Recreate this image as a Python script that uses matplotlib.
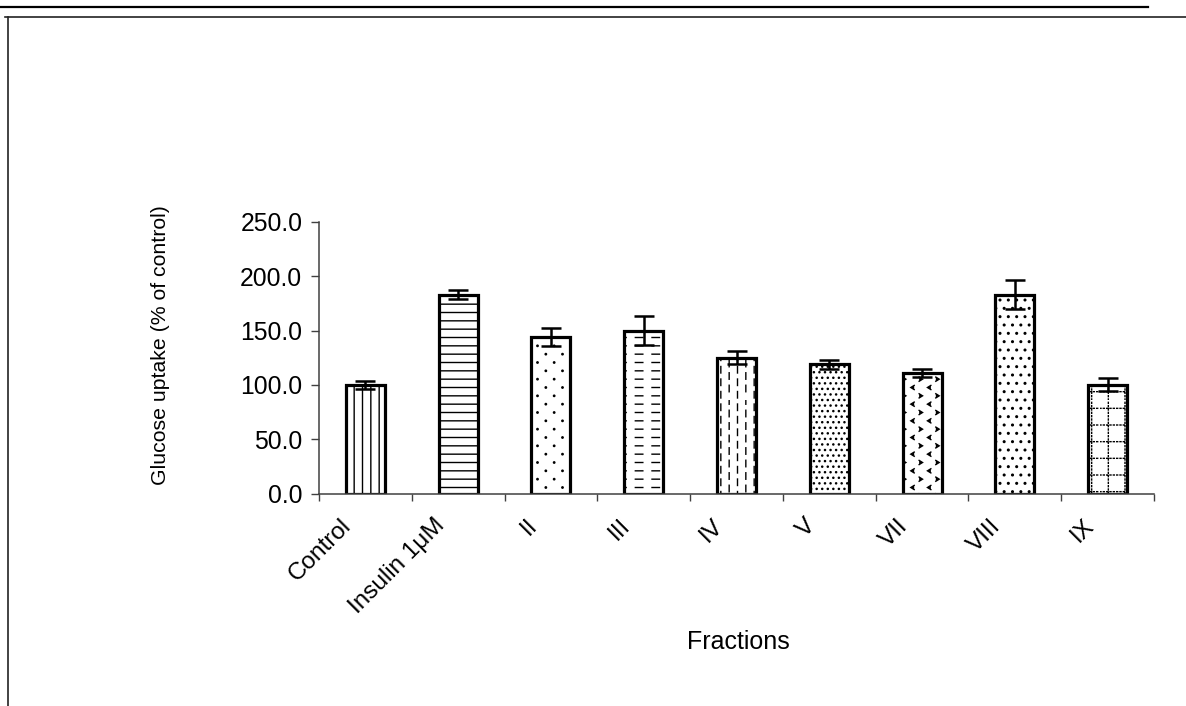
import warnings
warnings.filterwarnings('ignore')
import numpy as np
import matplotlib
matplotlib.use('Agg')
import matplotlib.pyplot as plt
import matplotlib.hatch as mhatch
import matplotlib.transforms as mtrans
from matplotlib.path import Path
from matplotlib.lines import Line2D
from matplotlib.ticker import FormatStrFormatter

# ---------------- data ----------------
categories = ['Control', 'Insulin 1μM', 'II', 'III', 'IV', 'V', 'VII', 'VIII', 'IX']
uptake = [100.0, 183.0, 144.0, 150.0, 125.0, 119.0, 111.0, 183.0, 100.0]
sem = [4.0, 4.0, 8.0, 13.0, 6.0, 4.0, 4.0, 13.0, 6.0]
yticks = [0, 50, 100, 150, 200, 250]
hatches = ['||', '--', 'a', 'b', 'c', '...', 'e', '..', 'f']

# ---------------- custom hatch patterns (styles) ----------------
def _segs(segs):
    v = np.asarray(segs, float).reshape(-1, 2)
    c = np.tile([Path.MOVETO, Path.LINETO], len(segs)).astype(Path.code_type)
    return v, c

def _circles(centers, r):
    uc = Path.unit_circle()
    vs = [uc.vertices * r + np.asarray(cc) for cc in centers]
    cs = [uc.codes for _ in centers]
    return np.concatenate(vs), np.concatenate(cs).astype(Path.code_type)


class _CustomHatch(mhatch.HatchPatternBase):
    char = None

    def __init__(self, hatch, density):
        if self.char is not None and hatch.count(self.char):
            v, c = self.build()
        else:
            v, c = np.empty((0, 2)), np.empty(0, dtype=Path.code_type)
        self._v, self._c = v, c
        self.num_vertices = len(v)

    def set_vertices_and_codes(self, vertices, codes):
        vertices[:] = self._v
        codes[:] = self._c


class SparseDots(_CustomHatch):
    char = 'a'

    def build(self):
        pts = []
        for j in range(12):
            for i in range(6):
                pts.append(((i + 0.25 + 0.5 * (j % 2)) / 6, (j + 0.5) / 12))
        return _circles(pts, 0.007)


class HDashes(_CustomHatch):
    char = 'b'

    def build(self):
        segs = []
        for j in range(12):
            y = (j + 0.5) / 12
            for i in range(6):
                x0 = i / 6 + 0.02
                segs.append(((x0, y), (x0 + 0.075, y)))
        return _segs(segs)


class VDashes(_CustomHatch):
    char = 'c'

    def build(self):
        segs = []
        for i in range(12):
            x = (i + 0.5) / 12
            off = 0.0625 * (i % 2)
            for j in range(8):
                y0 = j / 8 + off + 0.02
                segs.append(((x, y0), (x, y0 + 0.065)))
        return _segs(segs)


class Chevrons(_CustomHatch):
    char = 'e'

    def build(self):
        vs, cs = [], []
        hw, hh = 0.017, 0.021
        for j in range(12):
            for i in range(12):
                if (i + j) % 2:
                    continue
                cx, cy = (i + 0.5) / 12, (j + 0.5) / 12
                s = 1 if j % 2 == 0 else -1
                vs += [(cx - s * hw, cy + hh), (cx + s * hw, cy), (cx - s * hw, cy - hh)]
                cs += [Path.MOVETO, Path.LINETO, Path.LINETO]
        return np.asarray(vs, float), np.asarray(cs, dtype=Path.code_type)


class DottedGrid(_CustomHatch):
    char = 'f'

    def build(self):
        segs = []
        for k in range(6):
            p = (k + 0.5) / 6
            for m in range(30):
                a = m / 30
                segs.append(((a, p), (a + 0.01, p)))
                segs.append(((p, a), (p, a + 0.01)))
        return _segs(segs)


mhatch._hatch_types.extend([SparseDots, HDashes, VDashes, Chevrons, DottedGrid])

# ---------------- figure ----------------
plt.rcParams['font.family'] = ['Liberation Sans', 'DejaVu Sans']
plt.rcParams['hatch.linewidth'] = 1.0

W, H = 1186, 706
fig = plt.figure(figsize=(W / 100, H / 100), dpi=100)
fig.patch.set_facecolor('white')

def fx(px):
    return px / W

def fy(py):
    return 1 - py / H

# page decoration lines
fig.add_artist(Line2D([fx(0), fx(1148)], [fy(7), fy(7)], transform=fig.transFigure,
                      color='black', lw=1.6))
fig.add_artist(Line2D([fx(5), fx(1186)], [fy(17), fy(17)], transform=fig.transFigure,
                      color='#222222', lw=1.2))
fig.add_artist(Line2D([fx(8), fx(8)], [fy(17), fy(706)], transform=fig.transFigure,
                      color='#222222', lw=1.2))

ax_left, ax_right, ax_top, ax_bottom = 319, 1154, 221.7, 493.8
ax = fig.add_axes([fx(ax_left), fy(ax_bottom), (ax_right - ax_left) / W,
                   (ax_bottom - ax_top) / H])

n = len(categories)
x = np.arange(n) + 0.5
bars = ax.bar(x, uptake, width=0.42, color='white', edgecolor='black',
              linewidth=2.3, zorder=2)
for b, h in zip(bars, hatches):
    b.set_hatch(h)

ax.errorbar(x, uptake, yerr=sem, fmt='none', ecolor='black', elinewidth=1.8,
            capsize=7, capthick=1.8, zorder=3)

ax.set_xlim(0, n)
ax.set_ylim(0, 250)
ax.set_yticks(yticks)
ax.yaxis.set_major_formatter(FormatStrFormatter('%.1f'))

for s in ['top', 'right']:
    ax.spines[s].set_visible(False)
for s in ['left', 'bottom']:
    ax.spines[s].set_color('#404040')
    ax.spines[s].set_linewidth(1.1)

ax.tick_params(axis='y', length=6, width=1.0, color='#404040', pad=6,
               labelsize=17.8, labelcolor='black')
ax.set_xticks(x)
ax.set_xticks(np.arange(n + 1), minor=True)
ax.tick_params(axis='x', which='minor', length=5, width=1.0, color='#404040')
ax.tick_params(axis='x', which='major', length=0, pad=0)
ax.set_xticklabels(categories, rotation=45, ha='right', va='top',
                   rotation_mode='anchor', fontsize=17.5)
offset = mtrans.ScaledTranslation(-25 / 100, -21 / 100, fig.dpi_scale_trans)
for lab in ax.get_xticklabels():
    lab.set_transform(lab.get_transform() + offset)

fig.text(fx(160), fy(345), 'Glucose uptake (% of control)', rotation=90,
         ha='center', va='center', fontsize=15.3)
fig.text(fx(738), fy(642), 'Fractions', ha='center', va='center', fontsize=18)

fig.savefig('out.png', dpi=100, facecolor='white')
